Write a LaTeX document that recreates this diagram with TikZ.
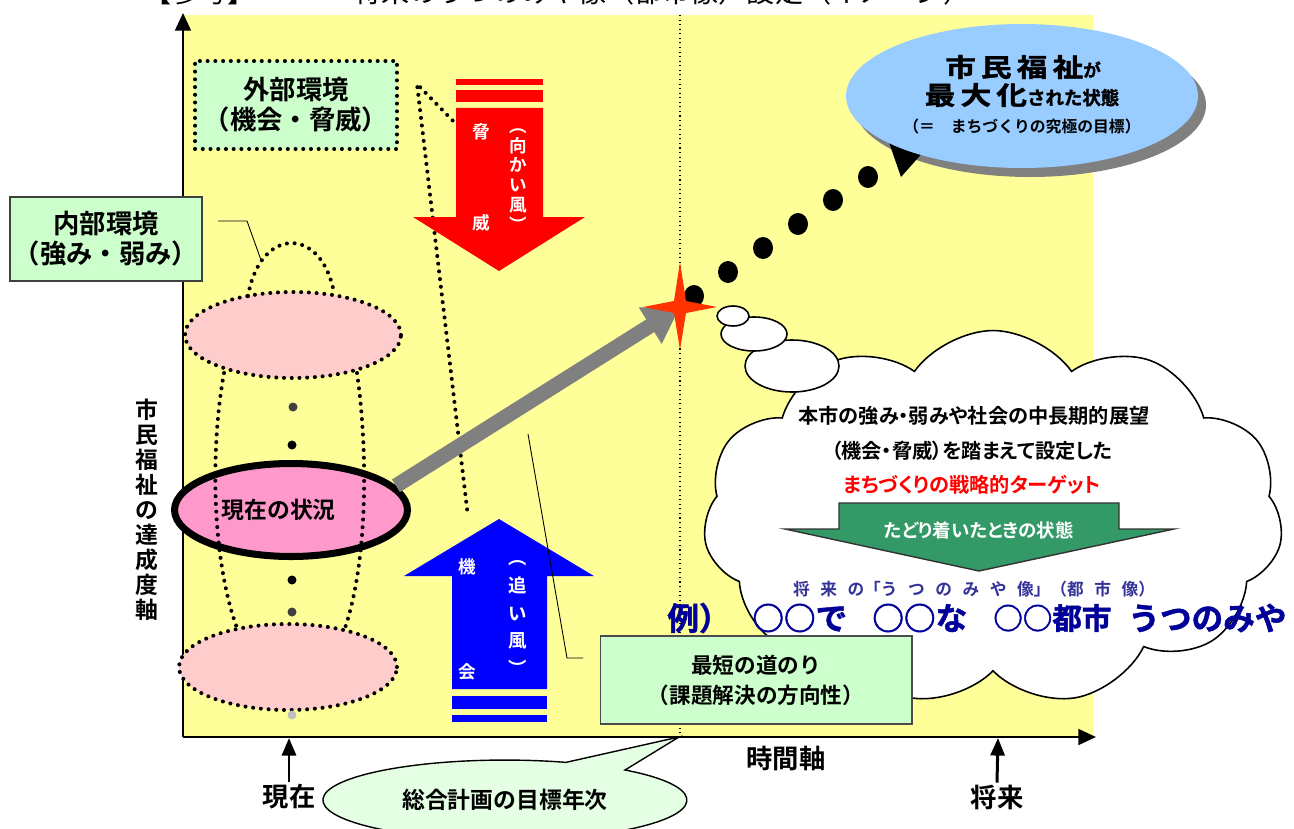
\documentclass[tikz,border=0pt]{standalone}
\usepackage{fontspec}
\setmainfont{Noto Sans CJK JP}[BoldFont={* Bold}]
\newfontfamily\jpp{Noto Sans CJK JP}[BoldFont={* Bold},RawFeature={+palt}]
\usepackage{graphicx}
\usetikzlibrary{arrows.meta,shapes.geometric,shapes.symbols,calc}
\definecolor{bgyellow}{HTML}{FFFF99}
\definecolor{lgreen}{HTML}{CCFFCC}
\definecolor{pinkl}{HTML}{FFCCCC}
\definecolor{curpink}{HTML}{FF99CC}
\definecolor{lblue}{HTML}{99CCFF}
\definecolor{arrowgray}{HTML}{808080}
\definecolor{starred}{HTML}{FF3300}
\definecolor{darkgreen}{HTML}{339966}
\definecolor{navy}{HTML}{000099}
\definecolor{navyl}{HTML}{333399}
\definecolor{palegreen}{HTML}{E5FFE5}
\definecolor{redd}{HTML}{FF0000}
\definecolor{blued}{HTML}{0000FF}
\newcommand\ls{\hspace{6pt}}
\begin{document}
\begin{tikzpicture}[x=0.02cm,y=-0.02cm,
  dotbd/.style={line width=2.3pt,dash pattern=on 0pt off 4.4pt,line cap=round},
  lbl/.style={font=\bfseries\fontsize{15}{17}\selectfont,align=center,inner sep=0pt},
  wtxt/.style={text=white,font=\bfseries\fontsize{10}{11.3}\selectfont,align=center,inner sep=0pt},
  ctxt/.style={font=\jpp\bfseries\fontsize{11.5}{12}\selectfont,inner sep=0pt},
  extxt/.style={font=\bfseries\fontsize{18}{18}\selectfont\addfontfeature{FakeBold=1.5},text=navy,inner sep=0pt,anchor=west},
  axisline/.style={line width=1.2pt,-{Triangle[width=9pt,length=10pt]}},
  timearrow/.style={line width=1.7pt,-{Triangle[width=8pt,length=10pt]}},
  timelbl/.style={font=\bfseries\fontsize{15}{15}\selectfont,inner sep=1pt}]
\useasboundingbox (0,0) rectangle (1294,828);
\clip (0,0) rectangle (1294,828);
\fill[white] (0,0) rectangle (1294,828);
% title (cut off at the top edge, as in the reference)
\node[anchor=base west,font=\fontsize{16}{16}\selectfont,inner sep=0pt] (t1) at (143,3) {【参考】};
\node[anchor=base west,font=\fontsize{16}{16}\selectfont,inner sep=0pt] (t2) at (353,3) {将来のうつのみや像（都市像）設定（イメージ）};
% background
\fill[bgyellow] (183,15) rectangle (1093,737);
\coordinate (O) at (183,737);
\coordinate (ytop) at (183,13);
\coordinate (xend) at (1096,737);
\coordinate (gtop) at (680,15);
\coordinate (gbot) at (680,737);
\draw[line width=0.6pt,dotted] (gtop) -- (gbot);
\draw[axisline] (O) -- (ytop);
\draw[axisline] (O) -- (xend);
% dotted lines from external environment
\coordinate (ap) at (417,84);
\coordinate (apa) at (458,126);
\coordinate (apb) at (468,517);
\draw[dotbd] (apa) -- (ap) -- (apb);
% red arrow (threat)
\fill[redd] (456,79) rectangle (543,85);
\fill[redd] (456,90) rectangle (543,102);
\fill[redd] (456,108) -- (543,108) -- (543,217) -- (585,217) -- (499,271) -- (413,217) -- (456,217) -- cycle;
\node[wtxt] (r1) at (481,132) {脅};
\node[wtxt] (r2) at (481,223) {威};
\node[wtxt] (r3) at (518,180) {︵\\向\\か\\い\\風\\︶};
% blue arrow (opportunity)
\fill[blued] (499,519) -- (594,576) -- (547,576) -- (547,689) -- (452,689) -- (452,576) -- (404,576) -- cycle;
\fill[blued] (452,696) rectangle (547,709);
\fill[blued] (452,715) rectangle (547,722);
\node[wtxt] (b1) at (467,567) {機};
\node[wtxt] (b2) at (467,672) {会};
\node[wtxt,font=\bfseries\fontsize{10.5}{15.9}\selectfont] (b3) at (518,618) {︵\\追\\い\\風\\︶};
% internal environment group
\node[ellipse,draw,dotbd,fill=pinkl,minimum width=4.32cm,minimum height=1.72cm] (e1) at (293,335) {};
\node[ellipse,draw,dotbd,fill=pinkl,minimum width=4.36cm,minimum height=1.72cm] (e2) at (288,667) {};
\fill[black!75] (293,407) circle (4.5);
\fill[black] (292,445) circle (4.5);
\fill[black] (292,580) circle (4.5);
\fill[black!75] (292,612) circle (4.5);
\fill[black!25] (292,715) circle (4.5);
\node[ellipse,draw,line width=4pt,fill=curpink,minimum width=4.66cm,minimum height=1.86cm,inner sep=0pt,font=\bfseries\fontsize{13}{13}\selectfont] (cur) at (291,510) {\hspace*{-14pt}現在の状況};
\draw[dotbd] (248,296) .. controls (260,226) and (322,226) .. (334,293);
\draw[dotbd] (224,373) .. controls (210,450) and (212,560) .. (237,628);
\draw[dotbd] (357,373) .. controls (368,450) and (368,560) .. (345,628);
% internal environment label
\node[draw=black!75,line width=0.6pt,fill=lgreen,minimum width=3.84cm,minimum height=1.68cm,lbl] (inner) at (106,239) {内部環境\\（強み・弱み）};
\coordinate (in1) at (218,221);
\coordinate (in2) at (247,221);
\coordinate (in3) at (261,260);
\draw[line width=0.5pt] (in1) -- (in2) -- (in3);
% external environment label
\node[draw,dotbd,fill=lgreen,minimum width=4.04cm,minimum height=1.76cm,lbl] (outer) at (296,105) {外部環境\\（機会・脅威）};
% path arrow, dots, star
\coordinate (star) at (680,307);
\draw[line width=8.5pt,draw=arrowgray,-{Triangle[width=23pt,length=20pt]}] (cur.13) -- (star);
\foreach \px/\py in {694/296,728/272,763/248,798/224,833/200,868/177}
  \fill (\px,\py) ellipse [x radius=10,y radius=11];
\fill[starred] (680,262) -- (686,301) -- (717,307) -- (686,313) -- (680,350) -- (674,313) -- (643,307) -- (674,301) -- cycle;
% goal ellipse
\fill[arrowgray] (1030,105) ellipse [x radius=176,y radius=72];
\fill[black] (884,128) -- (901,177) -- (925,150) -- cycle;
\fill[lblue] (1022,96) ellipse [x radius=176,y radius=72];
\node[font=\bfseries\fontsize{14.5}{14}\selectfont\addfontfeature{FakeBold=1.5},inner sep=0pt] (g1) at (1023,67) {\scalebox{1.2}[1]{市\hspace{2.5pt}民\hspace{2.5pt}福\hspace{2.5pt}祉}{\fontsize{10}{10}\selectfont が}};
\node[font=\bfseries\fontsize{14.5}{14}\selectfont\addfontfeature{FakeBold=1.5},inner sep=0pt] (g2) at (1022,95) {\scalebox{1.2}[1]{最\hspace{2.5pt}大\hspace{2.5pt}化}{\fontsize{10.5}{10.5}\selectfont された状態}};
\node[font=\bfseries\fontsize{9}{9}\selectfont,inner sep=0pt] (g3) at (1022,126) {（＝　まちづくりの究極の目標）};
% cloud
\node[cloud,cloud puffs=11,cloud puff arc=110,aspect=1.6,draw,fill=white,line width=0.9pt,minimum width=11.6cm,minimum height=7.5cm,inner sep=0pt] (cloudn) at (993,518) {};
\draw[line width=0.9pt,fill=white] (792,366) ellipse [x radius=47,y radius=26];
\draw[line width=0.9pt,fill=white] (754,334) ellipse [x radius=33,y radius=17];
\draw[line width=0.9pt,fill=white] (733,316) ellipse [x radius=16,y radius=10];
\node[ctxt] (c1) at (974,416) {本市の強み・弱みや社会の中長期的展望};
\node[ctxt] (c2) at (972,451) {（機会・脅威）を踏まえて設定した};
\node[ctxt,text=redd] (c3) at (972,485) {まちづくりの戦略的ターゲット};
\fill[darkgreen,draw=black!80,line width=0.8pt] (839,503) -- (1119,503) -- (1119,529) -- (1174,529) -- (979,571) -- (785,529) -- (839,529) -- cycle;
\node[ctxt,text=white,font=\jpp\bfseries\fontsize{10.5}{11}\selectfont] (c4) at (979,530) {たどり着いたときの状態};
\node[font=\bfseries\fontsize{9.5}{9}\selectfont,text=navyl,inner sep=0pt] (c5) at (974,589) {将\ls 来\ls の「う\ls つ\ls の\ls み\ls や\ls 像」（都\ls 市\ls 像）};
% shortest path box
\coordinate (s1) at (583,658);
\coordinate (s2) at (567,658);
\coordinate (s3) at (528,434);
\draw[line width=0.5pt] (s1) -- (s2) -- (s3);
\node[draw=black!70,line width=0.6pt,fill=lgreen,minimum width=6.24cm,minimum height=1.76cm,font=\bfseries\fontsize{12.3}{17}\selectfont,align=center,inner sep=0pt] (short) at (756,680) {最短の道のり\\（課題解決の方向性）};
% target-year callout
\filldraw[fill=palegreen,draw=black,line width=0.8pt] (625,770) arc[start angle=-48.7,end angle=289.6,x radius=182,y radius=40] -- (679,737) -- cycle;
\node[font=\bfseries\fontsize{13}{13}\selectfont,inner sep=0pt] (tgt) at (505,800) {総合計画の目標年次};
% time labels
\node[timelbl] (now) at (289,797) {現在};
\coordinate (nowtick) at (289,738);
\draw[timearrow] (now.north) -- (nowtick);
\node[timelbl] (fut) at (997,797) {将来};
\coordinate (futtick) at (998,738);
\draw[timearrow] (fut.north) -- (futtick);
\node[timelbl] (taxis) at (786,758) {時間軸};
\node[font=\bfseries\fontsize{13}{14.2}\selectfont,align=center,inner sep=0pt] (yl) at (147,510) {市\\民\\福\\祉\\の\\達\\成\\度\\軸};
% example text
\node[extxt] (x1) at (667,618) {例）};
\node[extxt] (x2) at (752,618) {○○で};
\node[extxt] (x3) at (872,618) {○○な};
\node[extxt,font=\bfseries\fontsize{16.8}{18}\selectfont\addfontfeature{FakeBold=1.5}] (x4) at (993,618) {○○都市};
\node[extxt] (x5) at (1128,618) {うつのみや};
\end{tikzpicture}
\end{document}
